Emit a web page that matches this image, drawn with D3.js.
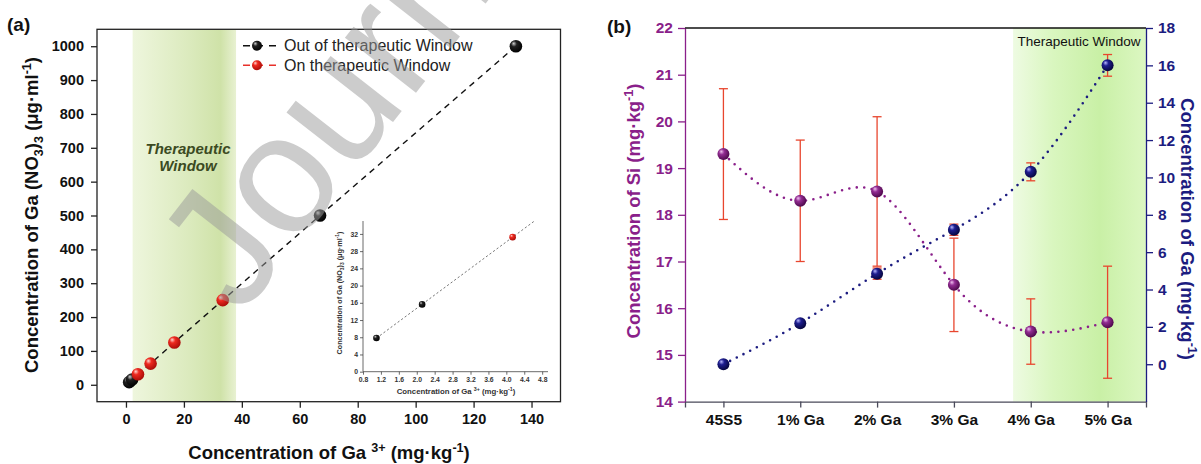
<!DOCTYPE html>
<html>
<head>
<meta charset="utf-8">
<script src="https://cdn.jsdelivr.net/npm/d3@7"></script>
<style>
  body { margin: 0; background: #fff; }
  svg { display: block; font-family: Arial, "Liberation Sans", sans-serif; }
</style>
</head>
<body>
<div id="chart"></div>
<script>
// ---- panel (a) data ----
var gaIon     = [1.1, 2.12, 4.14, 8.5, 16.7, 33.4, 67, 134.6];
var gaNitrate = [7.8125, 15.625, 31.25, 62.5, 125, 250, 500, 1000];
var inWindow  = [false, false, true, true, true, true, false, false];
var windowA   = [2.3, 38];
var xTicksA   = [0, 20, 40, 60, 80, 100, 120, 140];
var yTicksA   = [0, 100, 200, 300, 400, 500, 600, 700, 800, 900, 1000];
var insetN    = 3;
var insetXTicks = [0.8, 1.2, 1.6, 2.0, 2.4, 2.8, 3.2, 3.6, 4.0, 4.4, 4.8];
var insetYTicks = [0, 4, 8, 12, 16, 20, 24, 28, 32];
var legendA   = ["Out of therapeutic Window", "On therapeutic Window"];

// ---- panel (b) data ----
var samples = ["45S5", "1% Ga", "2% Ga", "3% Ga", "4% Ga", "5% Ga"];
var siMean  = [19.3, 18.3, 18.5, 16.5, 15.5, 15.7];
var siErr   = [1.4, 1.3, 1.6, 1.0, 0.7, 1.2];
var gaMean  = [0, 2.2, 4.85, 7.2, 10.3, 16.0];
var gaErr   = [0, 0, 0.3, 0.3, 0.48, 0.58];
var windowStartB = 3.77;   // in category steps from 45S5
var yTicksL = [14, 15, 16, 17, 18, 19, 20, 21, 22];
var yTicksR = [0, 2, 4, 6, 8, 10, 12, 14, 16, 18];

var width = 1201, height = 464;
var purple = "#8a1f8a", navy = "#1c1c80", errRed = "#e8462e";
var font = "Arial, 'Liberation Sans', sans-serif";

var svg = d3.select("#chart").append("svg")
    .attr("width", width)
    .attr("height", height);

var defs = svg.append("defs");

function sphere(id, light, mid, dark) {
  var g = defs.append("radialGradient").attr("id", id)
      .attr("cx", "40%").attr("cy", "38%").attr("r", "65%")
      .attr("fx", "32%").attr("fy", "28%");
  g.append("stop").attr("offset", "0%").attr("stop-color", light);
  g.append("stop").attr("offset", "35%").attr("stop-color", mid);
  g.append("stop").attr("offset", "100%").attr("stop-color", dark);
}
sphere("sBlack", "#d0d0d0", "#202020", "#000");
sphere("sRed", "#ffd6d0", "#ee2a20", "#a80c08");
sphere("sPurple", "#f0c0f0", "#932d93", "#4a0648");
sphere("sNavy", "#b8b8ff", "#1e1e90", "#05053a");

function band(id, stops) {
  var g = defs.append("linearGradient").attr("id", id)
      .attr("x1", "0%").attr("x2", "100%").attr("y1", "0%").attr("y2", "0%");
  stops.forEach(function (s) {
    g.append("stop").attr("offset", s[0]).attr("stop-color", s[1]);
  });
}
band("bandA", [["0%", "#eef6dd"], ["55%", "#dbeabd"], ["85%", "#cfe2a8"], ["100%", "#e8f1d2"]]);
band("bandB", [["0%", "#eefbe2"], ["30%", "#d9f6bf"], ["65%", "#c9f0a6"], ["100%", "#dcf7c2"]]);

// text with sub/superscripts
function rich(text, parts, size) {
  var shift = 0;
  parts.forEach(function (p) {
    var target = p[1] === "sub" ? size * 0.28 : p[1] === "sup" ? -size * 0.4 : 0;
    text.append("tspan")
        .attr("dy", target - shift)
        .attr("font-size", p[1] ? size * 0.68 : size)
        .text(p[0]);
    shift = target;
  });
}

// ================= panel (a) =================
var xA = d3.scaleLinear().domain([-10, 150]).range([97, 560.5]);
var yA = d3.scaleLinear().domain([-50, 1050]).range([401.7, 29.3]);

svg.append("rect")
    .attr("x", xA(windowA[0])).attr("y", yA(1050))
    .attr("width", xA(windowA[1]) - xA(windowA[0]))
    .attr("height", yA(-50) - yA(1050))
    .attr("fill", "url(#bandA)");

svg.append("g").attr("font-weight", "bold").attr("font-style", "italic")
    .attr("font-size", 15).attr("fill", "#3b4a22").attr("text-anchor", "middle")
  .selectAll("text").data(["Therapeutic", "Window"]).enter().append("text")
    .attr("x", 188).attr("y", function (d, i) { return 154 + i * 17; })
    .text(function (d) { return d; });

var axA = svg.append("g").attr("transform", "translate(0," + yA(-50) + ")")
    .call(d3.axisBottom(xA).tickValues(xTicksA).tickSize(6).tickPadding(6));
var ayA = svg.append("g").attr("transform", "translate(" + xA(-10) + ",0)")
    .call(d3.axisLeft(yA).tickValues(yTicksA).tickFormat(d3.format("d")).tickSize(6).tickPadding(7));
[axA, ayA].forEach(function (a) {
  a.select(".domain").remove();
  a.selectAll("line").attr("stroke", "#222").attr("stroke-width", 1.3);
  a.selectAll("text").attr("font-size", 14.5).attr("font-weight", "bold")
      .attr("font-family", font).attr("fill", "#111");
});

svg.append("rect")
    .attr("x", xA(-10)).attr("y", yA(1050))
    .attr("width", xA(150) - xA(-10)).attr("height", yA(-50) - yA(1050))
    .attr("fill", "none").attr("stroke", "#222").attr("stroke-width", 1.3);

var ptsA = gaIon.map(function (x, i) { return {x: x, y: gaNitrate[i], on: inWindow[i]}; });

svg.append("path").datum(ptsA)
    .attr("d", d3.line().x(function (d) { return xA(d.x); }).y(function (d) { return yA(d.y); }))
    .attr("fill", "none").attr("stroke", "#111").attr("stroke-width", 1.4)
    .attr("stroke-dasharray", "6 5");

svg.append("g").selectAll("circle").data(ptsA).enter().append("circle")
    .attr("cx", function (d) { return xA(d.x); })
    .attr("cy", function (d) { return yA(d.y); })
    .attr("r", 6.3)
    .attr("fill", function (d) { return d.on ? "url(#sRed)" : "url(#sBlack)"; });

// legend
var leg = svg.append("g");
legendA.forEach(function (name, i) {
  var y = 45.7 + i * 19.5;
  var c = i === 0 ? "#111" : "#e8302a";
  leg.append("line").attr("x1", 243).attr("x2", 276).attr("y1", y).attr("y2", y)
      .attr("stroke", c).attr("stroke-width", 1.4).attr("stroke-dasharray", "7 6");
  leg.append("circle").attr("cx", 257).attr("cy", y).attr("r", 5)
      .attr("fill", i === 0 ? "url(#sBlack)" : "url(#sRed)");
  leg.append("text").attr("x", 284).attr("y", y + 5.6)
      .attr("font-size", 16).attr("fill", "#222").text(name);
});

// axis titles
var tA = svg.append("text").attr("font-weight", "bold").attr("fill", "#111")
    .attr("text-anchor", "middle")
    .attr("transform", "translate(38,215) rotate(-90)");
rich(tA, [["Concentration of Ga (NO"], ["3", "sub"], [")"], ["3", "sub"],
          [" (\u03bcg\u00b7ml"], ["-1", "sup"], [")"]], 18.5);

var txA = svg.append("text").attr("font-weight", "bold").attr("fill", "#111")
    .attr("text-anchor", "middle").attr("x", 329).attr("y", 459);
rich(txA, [["Concentration of Ga "], ["3+", "sup"], [" (mg\u00b7kg"], ["-1", "sup"], [")"]], 18.5);

svg.append("text").attr("x", 7).attr("y", 31).attr("font-size", 19)
    .attr("font-weight", "bold").attr("fill", "#111").text("(a)");

// ---- inset ----
var xI = d3.scaleLinear().domain([0.8, 4.93]).range([363, 548]);
var yI = d3.scaleLinear().domain([0, 35]).range([371.7, 221]);
var insetPts = ptsA.slice(0, insetN);

var axI = svg.append("g").attr("transform", "translate(0," + yI(0) + ")")
    .call(d3.axisBottom(xI).tickValues(insetXTicks).tickFormat(d3.format(".1f")).tickSize(3).tickPadding(2));
var ayI = svg.append("g").attr("transform", "translate(" + xI(0.8) + ",0)")
    .call(d3.axisLeft(yI).tickValues(insetYTicks).tickSize(3).tickPadding(2));
[axI, ayI].forEach(function (a) {
  a.select(".domain").attr("stroke", "#444").attr("stroke-width", 0.8);
  a.selectAll("line").attr("stroke", "#444").attr("stroke-width", 0.8);
  a.selectAll("text").attr("font-size", 6.8).attr("font-weight", "bold")
      .attr("font-family", font).attr("fill", "#333");
});
axI.select(".domain").attr("d", "M" + xI(0.8) + ",0H" + xI(4.93));
ayI.select(".domain").attr("d", "M0," + yI(0) + "V" + yI(35));

// least-squares line through the inset points, drawn to the top of the inset
var mx = d3.mean(insetPts, function (d) { return d.x; });
var my = d3.mean(insetPts, function (d) { return d.y; });
var slope = d3.sum(insetPts, function (d) { return (d.x - mx) * (d.y - my); }) /
            d3.sum(insetPts, function (d) { return (d.x - mx) * (d.x - mx); });
var x0 = insetPts[0].x, x1 = mx + (35 - my) / slope;
svg.append("line")
    .attr("x1", xI(x0)).attr("y1", yI(my + slope * (x0 - mx)))
    .attr("x2", xI(x1)).attr("y2", yI(35))
    .attr("stroke", "#666").attr("stroke-width", 0.9).attr("stroke-dasharray", "2.2 2.2");

svg.append("g").selectAll("circle").data(insetPts).enter().append("circle")
    .attr("cx", function (d) { return xI(d.x); })
    .attr("cy", function (d) { return yI(d.y); })
    .attr("r", 3.3)
    .attr("fill", function (d) { return d.on ? "url(#sRed)" : "url(#sBlack)"; });

var tI = svg.append("text").attr("font-weight", "bold").attr("fill", "#333")
    .attr("text-anchor", "middle").attr("transform", "translate(341.5,293) rotate(-90)");
rich(tI, [["Concentration of Ga (NO"], ["3", "sub"], [")"], ["3", "sub"],
          [" (\u03bcg\u00b7ml"], ["-1", "sup"], [")"]], 7.2);
var txI = svg.append("text").attr("font-weight", "bold").attr("fill", "#333")
    .attr("text-anchor", "middle").attr("x", 456).attr("y", 394);
rich(txI, [["Concentration of Ga "], ["3+", "sup"], [" (mg\u00b7kg"], ["-1", "sup"], [")"]], 7.8);

// ================= panel (b) =================
var xB = d3.scalePoint().domain(samples).range([685, 1146]).padding(0.5);
var yL = d3.scaleLinear().domain([14, 22]).range([401.6, 28]);
var yR = d3.scaleLinear().domain([-2, 18]).range([401.6, 28]);

var bx0 = xB(samples[0]) + windowStartB * xB.step();
svg.append("rect")
    .attr("x", bx0).attr("y", yL(22))
    .attr("width", xB.range()[1] - bx0).attr("height", yL(14) - yL(22))
    .attr("fill", "url(#bandB)");
svg.append("text").attr("x", 1079).attr("y", 46).attr("text-anchor", "middle")
    .attr("font-size", 13.5).attr("fill", "#111").text("Therapeutic Window");

var axB = svg.append("g").attr("transform", "translate(0," + yL(14) + ")")
    .call(d3.axisBottom(xB).tickSize(6).tickPadding(6));
axB.select(".domain").attr("stroke", "#4a4a5a").attr("stroke-width", 1.3);
axB.selectAll("line").attr("stroke", "#4a4a5a").attr("stroke-width", 1.3);
axB.selectAll("text").attr("font-size", 15.5).attr("font-weight", "bold").attr("fill", "#111")
    .attr("font-family", font);

var ayL = svg.append("g").attr("transform", "translate(685,0)")
    .call(d3.axisLeft(yL).tickValues(yTicksL).tickSize(7).tickPadding(5).tickSizeOuter(0));
var ayR = svg.append("g").attr("transform", "translate(1146,0)")
    .call(d3.axisRight(yR).tickValues(yTicksR).tickSize(7).tickPadding(5).tickSizeOuter(0));
[[ayL, purple], [ayR, navy]].forEach(function (p) {
  p[0].select(".domain").attr("stroke", p[1]).attr("stroke-width", 1.3);
  p[0].selectAll("line").attr("stroke", p[1]).attr("stroke-width", 1.3);
  p[0].selectAll("text").attr("font-size", 15.5).attr("font-weight", "bold").attr("fill", p[1])
      .attr("font-family", font);
});

svg.append("line").attr("x1", 685).attr("x2", 1146).attr("y1", yL(22)).attr("y2", yL(22))
    .attr("stroke", "#111").attr("stroke-width", 1.3);

// error bars (both series in red)
function errBars(mean, err, y) {
  var g = svg.append("g").attr("stroke", errRed).attr("stroke-width", 1.3).attr("fill", "none");
  samples.forEach(function (s, i) {
    if (!err[i]) return;
    var x = xB(s), lo = y(mean[i] - err[i]), hi = y(mean[i] + err[i]);
    g.append("line").attr("x1", x).attr("x2", x).attr("y1", lo).attr("y2", hi);
    g.append("line").attr("x1", x - 4.5).attr("x2", x + 4.5).attr("y1", lo).attr("y2", lo);
    g.append("line").attr("x1", x - 4.5).attr("x2", x + 4.5).attr("y1", hi).attr("y2", hi);
  });
}
errBars(siMean, siErr, yL);
errBars(gaMean, gaErr, yR);

function dotted(mean, y, color) {
  svg.append("path").datum(mean)
      .attr("d", d3.line().curve(d3.curveNatural)
          .x(function (d, i) { return xB(samples[i]); })
          .y(function (d) { return y(d); }))
      .attr("fill", "none").attr("stroke", color).attr("stroke-width", 2.6)
      .attr("stroke-linecap", "round").attr("stroke-dasharray", "0 7.5");
}
dotted(siMean, yL, purple);
dotted(gaMean, yR, navy);

function balls(mean, y, fill) {
  svg.append("g").selectAll("circle").data(mean).enter().append("circle")
      .attr("cx", function (d, i) { return xB(samples[i]); })
      .attr("cy", function (d) { return y(d); })
      .attr("r", 6)
      .attr("fill", fill);
}
balls(siMean, yL, "url(#sPurple)");
balls(gaMean, yR, "url(#sNavy)");

var tL = svg.append("text").attr("font-weight", "bold").attr("fill", purple)
    .attr("text-anchor", "middle").attr("transform", "translate(640,211) rotate(-90)");
rich(tL, [["Concentration of Si  (mg\u00b7kg"], ["-1", "sup"], [")"]], 18.5);
var tR = svg.append("text").attr("font-weight", "bold").attr("fill", navy)
    .attr("text-anchor", "middle").attr("transform", "translate(1181,229) rotate(90)");
rich(tR, [["Concentration of Ga  (mg\u00b7kg"], ["-1", "sup"], [")"]], 18.5);

svg.append("text").attr("x", 607).attr("y", 33).attr("font-size", 19)
    .attr("font-weight", "bold").attr("fill", "#111").text("(b)");

// watermark
svg.append("text")
    .attr("transform", "translate(240,318) rotate(-52)")
    .attr("font-size", 170).attr("fill", "#9a9a9a").attr("opacity", 0.5)
    .text("Journal Pre-proof");
</script>
</body>
</html>
